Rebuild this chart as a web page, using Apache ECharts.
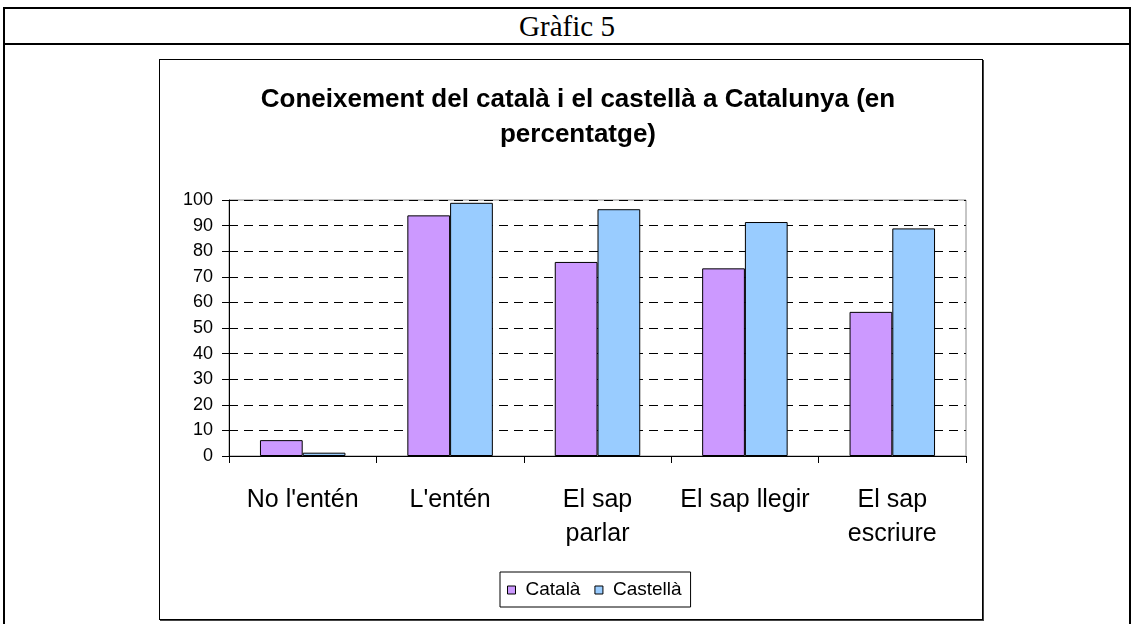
<!DOCTYPE html>
<html>
<head>
<meta charset="utf-8">
<script src="https://cdn.jsdelivr.net/npm/echarts@6/dist/echarts.min.js"></script>
<style>
  html, body { margin: 0; padding: 0; background: #fff; }
  #page { position: relative; width: 1134px; height: 624px; overflow: hidden; }
  .line { position: absolute; background: #000; }
  #header { position: absolute; left: 4px; width: 1126px; top: 9px; height: 35px;
            font-family: "Liberation Serif", "Times New Roman", serif; font-size: 29px;
            line-height: 35px; text-align: center; color: #000; }
  #frame { position: absolute; left: 159px; top: 59px; width: 822px; height: 559px;
           border: 1px solid #000; box-shadow: 1px 1px 0 #444; }
  #chart { position: absolute; left: 0; top: 0; width: 1134px; height: 624px; }
</style>
</head>
<body>
<div id="page">
  <div class="line" style="left:3px; top:7px; width:1128px; height:2px;"></div>
  <div class="line" style="left:3px; top:43px; width:1128px; height:2px;"></div>
  <div class="line" style="left:3px; top:7px; width:2px; height:617px;"></div>
  <div class="line" style="left:1129px; top:7px; width:2px; height:617px;"></div>
  <div id="header">Gràfic 5</div>
  <div id="frame"></div>
  <div id="chart"></div>
</div>
<script>
const categories = ["No l'entén", "L'entén", "El sap\nparlar", "El sap llegir", "El sap\nescriure"];
const catala = [6.2, 94, 75.8, 73.3, 56.3];
const castella = [1.3, 98.9, 96.4, 91.4, 88.9];
const seriesNames = ['Català', 'Castellà'];

const font = '"Liberation Sans", Arial, sans-serif';
const dom = document.getElementById("chart");
const myChart = echarts.init(dom);

const option = {
    animation: false,
    title: {
        text: 'Coneixement del català i el castellà a Catalunya (en\npercentatge)',
        left: 573,
        top: 77,
        textAlign: 'center',
        textStyle: {
            fontFamily: font,
            fontSize: 26,
            fontWeight: 'bold',
            lineHeight: 35,
            color: '#000'
        }
    },
    legend: {
        data: seriesNames,
        left: 500,
        top: 572,
        icon: 'rect',
        itemWidth: 8,
        itemHeight: 8,
        itemGap: 14,
        padding: [7, 9, 6, 7],
        borderColor: '#000',
        borderWidth: 1,
        itemStyle: { borderColor: '#000', borderWidth: 1 },
        textStyle: { fontFamily: font, fontSize: 19, color: '#000', lineHeight: 22, padding: [0, 0, 0, 5] }
    },
    grid: {
        left: 229,
        right: 168,
        top: 200,
        bottom: 168,
        show: true,
        borderColor: '#8c8c8c',
        borderWidth: 1,
        containLabel: false
    },
    xAxis: {
        type: 'category',
        data: categories,
        boundaryGap: true,
        axisLine: { lineStyle: { color: '#000', width: 1 } },
        axisTick: { show: true, length: 7, lineStyle: { color: '#000' } },
        axisLabel: {
            interval: 0,
            margin: 27,
            fontFamily: font,
            fontSize: 25,
            lineHeight: 34,
            color: '#000'
        },
        splitLine: { show: false }
    },
    yAxis: {
        type: 'value',
        min: 0,
        max: 100,
        interval: 10,
        axisLine: { show: true, lineStyle: { color: '#000', width: 1 } },
        axisTick: { show: true, length: 7, lineStyle: { color: '#000' } },
        axisLabel: { margin: 16, fontFamily: font, fontSize: 18, color: '#000' },
        splitLine: { show: true, lineStyle: { color: '#000', type: [9, 6], width: 1 } }
    },
    series: [{
        name: seriesNames[0],
        type: 'bar',
        data: catala,
        barWidth: '29%',
        barGap: '0%',
        itemStyle: { color: '#CC99FF', borderColor: '#000', borderWidth: 1 }
    }, {
        name: seriesNames[1],
        type: 'bar',
        data: castella,
        barWidth: '29%',
        barGap: '0%',
        itemStyle: { color: '#99CCFF', borderColor: '#000', borderWidth: 1 }
    }]
};
myChart.setOption(option, true);
</script>
</body>
</html>
